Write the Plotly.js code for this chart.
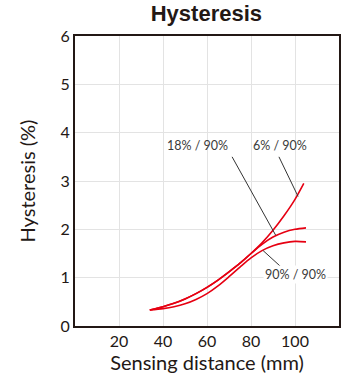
<!DOCTYPE html>
<html>
<head>
<meta charset="utf-8">
<script src="https://cdn.plot.ly/plotly-3.0.1.min.js"></script>
<style>html,body{margin:0;padding:0;background:#fff;}#chart{width:344px;height:383px;}</style>
</head>
<body>
<div id="chart"></div>
<script>
// Sensing distance (mm)
var distance = [34, 40, 45, 50, 55, 60, 65, 70, 75, 80, 85, 90, 95, 100, 104];
var distanceLong = [34, 40, 45, 50, 55, 60, 65, 70, 75, 80, 85, 90, 95, 100, 105];
// Hysteresis (%)
var hyst6 = [0.33, 0.40, 0.47, 0.56, 0.67, 0.80, 0.95, 1.12, 1.30, 1.50, 1.72, 1.98, 2.28, 2.62, 2.95];
var hyst18 = [0.33, 0.40, 0.47, 0.56, 0.67, 0.80, 0.95, 1.12, 1.30, 1.50, 1.69, 1.84, 1.94, 2.00, 2.03];
var hyst90 = [0.33, 0.36, 0.40, 0.46, 0.55, 0.67, 0.83, 1.02, 1.22, 1.41, 1.56, 1.66, 1.72, 1.75, 1.74];
var xTicks = [20, 40, 60, 80, 100];
var labels = ['6% / 90%', '18% / 90%', '90% / 90%'];
var labelX = [93.3, 55.9, 100.3];
var labelY = [3.73, 3.73, 1.06];
// leader lines: from label to curve
var leadX0 = [92.7, 71.4, 94.2];
var leadY0 = [3.50, 3.50, 1.20];
var leadX1 = [101.4, 91.2, 85.5];
var leadY1 = [2.68, 1.88, 1.56];

var red = '#e60012';
var dark = '#231815';
function tr(x, y, name) {
  return {x: x, y: y, name: name, type: 'scatter', mode: 'lines',
    line: {color: red, width: 1.6, shape: 'spline', smoothing: 0.8}, hoverinfo: 'skip'};
}
var data = [tr(distanceLong, hyst90, labels[2]), tr(distanceLong, hyst18, labels[1]), tr(distance, hyst6, labels[0])];

var annotations = labels.map(function (t, i) {
  return {x: labelX[i], y: labelY[i], xref: 'x', yref: 'y', text: t, showarrow: false,
    font: {family: 'Lato, sans-serif', size: 12.5, color: '#3a3a3a'}, bgcolor: i === 2 ? '#fff' : 'rgba(0,0,0,0)'};
});
var shapes = labels.map(function (t, i) {
  return {type: 'line', xref: 'x', yref: 'y', x0: leadX0[i], y0: leadY0[i], x1: leadX1[i], y1: leadY1[i],
    line: {color: '#333', width: 1}};
});

var layout = {
  width: 344, height: 383,
  margin: {l: 75, r: 5, t: 36, b: 57},
  paper_bgcolor: '#fff', plot_bgcolor: '#fff',
  showlegend: false,
  title: {text: 'Hysteresis', x: 0.6, xanchor: 'center', y: 0.985, yanchor: 'top',
    font: {family: 'Liberation Sans, Arial, sans-serif', size: 22, color: dark, weight: 'bold'}},
  xaxis: {range: [0, 120], tickvals: xTicks, ticktext: xTicks.map(String), ticks: '',
    showgrid: true, gridcolor: '#e3e3e3', gridwidth: 1, zeroline: false,
    showline: true, linecolor: dark, linewidth: 2, mirror: true,
    tickfont: {family: 'Lato, sans-serif', size: 16, color: dark},
    title: {text: 'Sensing distance (mm)', standoff: 6, font: {family: 'Lato, sans-serif', size: 20, color: dark}}},
  yaxis: {range: [0, 6], dtick: 1, ticks: '',
    showgrid: true, gridcolor: '#e3e3e3', gridwidth: 1, zeroline: false,
    showline: true, linecolor: dark, linewidth: 2, mirror: true,
    tickfont: {family: 'Lato, sans-serif', size: 16, color: dark},
    title: {text: 'Hysteresis (%)', standoff: 20, font: {family: 'Lato, sans-serif', size: 20, color: dark}}},
  annotations: annotations,
  shapes: shapes
};
Plotly.newPlot('chart', data, layout, {staticPlot: true, displayModeBar: false});
</script>
</body>
</html>
